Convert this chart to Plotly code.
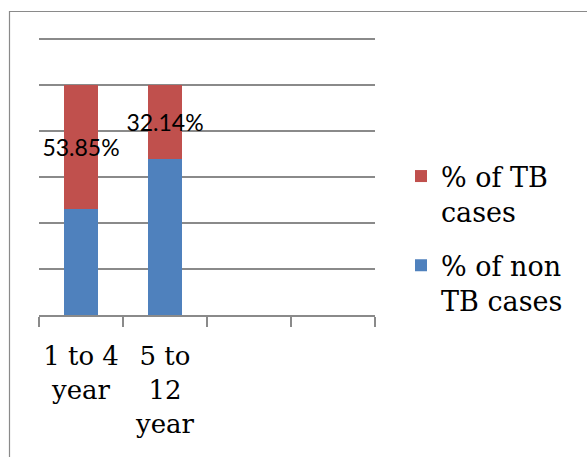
import plotly.graph_objects as go

categories = ["1 to 4<br>year", "5 to<br>12<br>year", " ", "  "]
bar_categories = categories[:2]
non_tb = [46.15, 67.86]
tb = [53.85, 32.14]
tb_labels = [f"{v:.2f}%" for v in tb]
series_names = ["% of non<br>TB cases", "% of TB<br>cases"]
grid_vals = [20, 40, 60, 80, 100, 120]

RED = "#C0504D"
BLUE = "#4F81BD"
GRID = "#8A8A8A"

W, H = 587, 457
YMAX = 121.3
L, R, B = 39, 212, 142
T = 36
pw, ph = W - L - R, H - T - B

def px(x):
    return (x - L) / pw

def py(y):
    return (H - B - y) / ph

fig = go.Figure()
fig.add_trace(go.Bar(
    x=bar_categories, y=non_tb, name=series_names[0], legendgroup="b",
    legendrank=2,
    marker=dict(color=BLUE, line=dict(width=0)), width=0.4,
))
fig.add_trace(go.Bar(
    x=bar_categories, y=tb, name=series_names[1], legendgroup="a",
    legendrank=1,
    marker=dict(color=RED, line=dict(width=0)), width=0.4,
    text=tb_labels, textposition="inside", insidetextanchor="middle",
    constraintext="none", textangle=0, cliponaxis=False,
    textfont=dict(family="Lato", size=23, color="black"),
))

fig.add_shape(type="rect", xref="paper", yref="paper",
              x0=px(9.5), x1=px(640), y0=py(11.5), y1=py(520),
              line=dict(color=GRID, width=1.2), fillcolor="rgba(0,0,0,0)",
              layer="below")

fig.update_layout(
    width=W, height=H,
    margin=dict(l=L, r=R, t=T, b=B, pad=0, autoexpand=False),
    barmode="stack",
    paper_bgcolor="white", plot_bgcolor="white",
    showlegend=True,
    legend=dict(
        x=px(401), y=py(152), xanchor="left", yanchor="top",
        valign="top", traceorder="grouped", tracegroupgap=16,
        font=dict(family="DejaVu Serif", size=27, color="black"),
        bgcolor="rgba(0,0,0,0)",
    ),
    xaxis=dict(
        type="category", categoryorder="array", categoryarray=categories,
        range=[-0.5, 3.5], showline=True, linecolor=GRID, linewidth=1.5,
        ticks="outside", tickson="boundaries", ticklen=10, tickcolor=GRID,
        tickwidth=1.5, showgrid=False, tickangle=0, automargin=False,
        ticklabelstandoff=17,
        tickfont=dict(family="DejaVu Serif", size=26, color="black"),
    ),
    yaxis=dict(
        range=[0, YMAX], tickvals=grid_vals,
        showticklabels=False, showgrid=True, automargin=False,
        gridcolor=GRID, gridwidth=1.5, zeroline=False, showline=False,
        ticks="",
    ),
)

fig.write_html("out.html", config={"displayModeBar": False},
               post_script="document.body.style.margin='0';document.body.style.overflow='hidden';")
